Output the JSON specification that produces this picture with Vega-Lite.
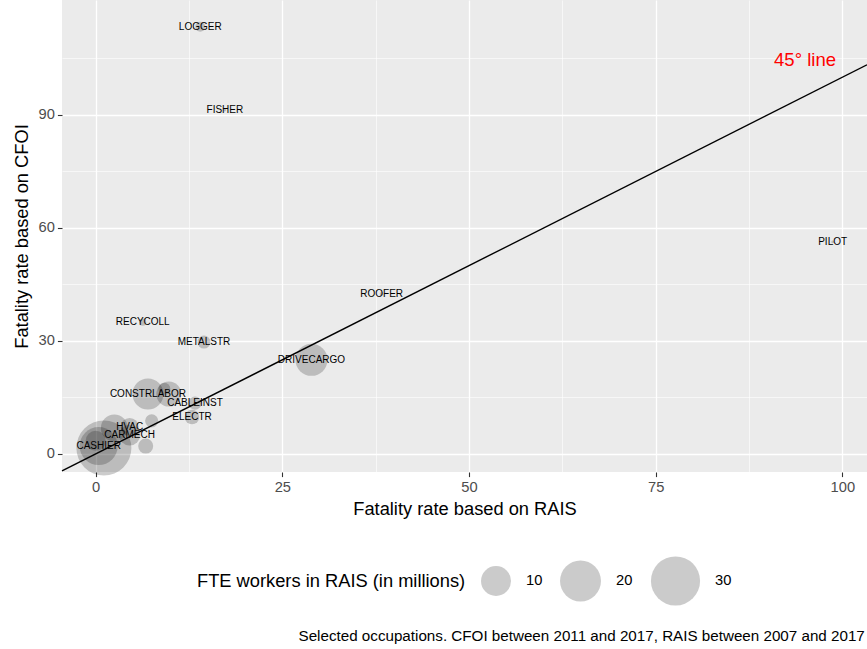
{
  "$schema": "https://vega.github.io/schema/vega-lite/v6.json",
  "width": 805,
  "height": 472,
  "autosize": {"type": "none"},
  "padding": {"left": 62, "top": 0, "right": 0, "bottom": 177},
  "background": "white",
  "config": {
    "font": "Liberation Sans",
    "view": {"fill": "#EBEBEB", "stroke": null},
    "axis": {
      "domain": false,
      "grid": true,
      "gridColor": "white",
      "tickColor": "#333333",
      "tickSize": 4.6,
      "tickWidth": 1.1,
      "labelColor": "#4D4D4D",
      "labelFont": "Liberation Sans",
      "labelFontSize": 14.7,
      "labelPadding": 3,
      "titleFont": "Liberation Sans",
      "titleFontSize": 18.3,
      "titleFontWeight": "normal",
      "titleColor": "black"
    },
    "legend": {
      "orient": "none",
      "legendX": 135,
      "legendY": 555,
      "direction": "horizontal",
      "titleOrient": "left",
      "titleFont": "Liberation Sans",
      "titleFontSize": 18.3,
      "titleFontWeight": "normal",
      "titleColor": "black",
      "titleBaseline": "middle",
      "titlePadding": 14,
      "titleLimit": 500,
      "labelFont": "Liberation Sans",
      "labelFontSize": 14.7,
      "labelColor": "black",
      "labelOffset": 14,
      "columnPadding": 14
    }
  },
  "title": {
    "text": "Selected occupations. CFOI between 2011 and 2017, RAIS between 2007 and 2017",
    "orient": "bottom",
    "anchor": "end",
    "fontSize": 15.2,
    "fontWeight": "normal",
    "font": "Liberation Sans",
    "color": "black",
    "offset": 20,
    "dx": -5
  },
  "datasets": {
    "occ": [
      {"occ": "", "rais": 1.1, "cfoi": 1.6, "fte": 38.6},
      {"occ": "CASHIER", "rais": 0.4, "cfoi": 2.1, "fte": 17.0},
      {"occ": "DRIVECARGO", "rais": 28.9, "cfoi": 25.0, "fte": 11.6},
      {"occ": "CONSTRLABOR", "rais": 7.0, "cfoi": 15.9, "fte": 10.8},
      {"occ": "", "rais": 2.5, "cfoi": 6.9, "fte": 7.9},
      {"occ": "", "rais": 9.8, "cfoi": 15.9, "fte": 6.7},
      {"occ": "CARMECH", "rais": 4.55, "cfoi": 5.0, "fte": 4.5},
      {"occ": "", "rais": 0.0, "cfoi": 3.5, "fte": 4.1},
      {"occ": "HVAC", "rais": 4.55, "cfoi": 7.2, "fte": 3.2},
      {"occ": "", "rais": 6.7, "cfoi": 2.1, "fte": 2.15},
      {"occ": "ELECTR", "rais": 12.9, "cfoi": 9.8, "fte": 2.0},
      {"occ": "CABLEINST", "rais": 13.3, "cfoi": 13.5, "fte": 1.6},
      {"occ": "", "rais": 7.5, "cfoi": 8.8, "fte": 1.6},
      {"occ": "METALSTR", "rais": 14.5, "cfoi": 29.7, "fte": 1.57},
      {"occ": "", "rais": 9.2, "cfoi": 17.3, "fte": 1.3},
      {"occ": "LOGGER", "rais": 14.0, "cfoi": 113.4, "fte": 0.87},
      {"occ": "RECYCOLL", "rais": 6.3, "cfoi": 35.0, "fte": 0.4},
      {"occ": "ROOFER", "rais": 38.3, "cfoi": 42.5, "fte": 0.1},
      {"occ": "FISHER", "rais": 17.3, "cfoi": 91.3, "fte": 0.05},
      {"occ": "PILOT", "rais": 98.7, "cfoi": 56.3, "fte": 0.05}
    ],
    "diag": [
      {"v": -4.51},
      {"v": 103.3}
    ],
    "note": [
      {"rais": 95.0, "cfoi": 104.6, "t": "45° line"}
    ]
  },
  "layer": [
    {
      "data": {"name": "occ"},
      "mark": {"type": "circle", "color": "black", "opacity": 0.2, "strokeWidth": 0},
      "encoding": {
        "x": {
          "field": "rais",
          "type": "quantitative",
          "scale": {"domain": [-4.51, 103.3], "nice": false, "zero": false},
          "axis": {
            "title": "Fatality rate based on RAIS",
            "values": [0, 12.5, 25, 37.5, 50, 62.5, 75, 87.5, 100],
            "labelExpr": "datum.value % 25 === 0 ? datum.label : ''",
            "tickOpacity": {"condition": {"test": "datum.value % 25 === 0", "value": 1}, "value": 0},
            "gridWidth": {"condition": {"test": "datum.value % 25 === 0", "value": 1.3}, "value": 0.6},
            "titlePadding": 6
          }
        },
        "y": {
          "field": "cfoi",
          "type": "quantitative",
          "scale": {"domain": [-4.78, 120.5], "nice": false, "zero": false},
          "axis": {
            "title": "Fatality rate based on CFOI",
            "values": [0, 15, 30, 45, 60, 75, 90, 105],
            "labelExpr": "datum.value % 30 === 0 ? datum.label : ''",
            "tickOpacity": {"condition": {"test": "datum.value % 30 === 0", "value": 1}, "value": 0},
            "gridWidth": {"condition": {"test": "datum.value % 30 === 0", "value": 1.3}, "value": 0.6},
            "titlePadding": 7
          }
        },
        "size": {
          "field": "fte",
          "type": "quantitative",
          "title": "FTE workers in RAIS (in millions)",
          "scale": {"type": "pow", "exponent": 0.9, "domain": [0, 30], "range": [0, 2413]},
          "legend": {
            "values": [10, 20, 30],
            "encode": {
              "symbols": {
                "update": {
                  "fill": {"value": "#BEBEBE"},
                  "opacity": {"value": 1},
                  "strokeWidth": {"value": 0}
                }
              }
            }
          }
        }
      }
    },
    {
      "data": {"name": "occ"},
      "transform": [{"filter": "datum.occ !== ''"}],
      "mark": {"type": "text", "fontSize": 10, "font": "Liberation Sans", "color": "black", "align": "center", "baseline": "middle"},
      "encoding": {
        "x": {"field": "rais", "type": "quantitative"},
        "y": {"field": "cfoi", "type": "quantitative"},
        "text": {"field": "occ"}
      }
    },
    {
      "data": {"name": "diag"},
      "mark": {"type": "line", "color": "black", "strokeWidth": 1.4},
      "encoding": {
        "x": {"field": "v", "type": "quantitative"},
        "y": {"field": "v", "type": "quantitative"}
      }
    },
    {
      "data": {"name": "note"},
      "mark": {"type": "text", "fontSize": 18.5, "font": "Liberation Sans", "color": "red", "align": "center", "baseline": "middle"},
      "encoding": {
        "x": {"field": "rais", "type": "quantitative"},
        "y": {"field": "cfoi", "type": "quantitative"},
        "text": {"field": "t"}
      }
    }
  ]
}
